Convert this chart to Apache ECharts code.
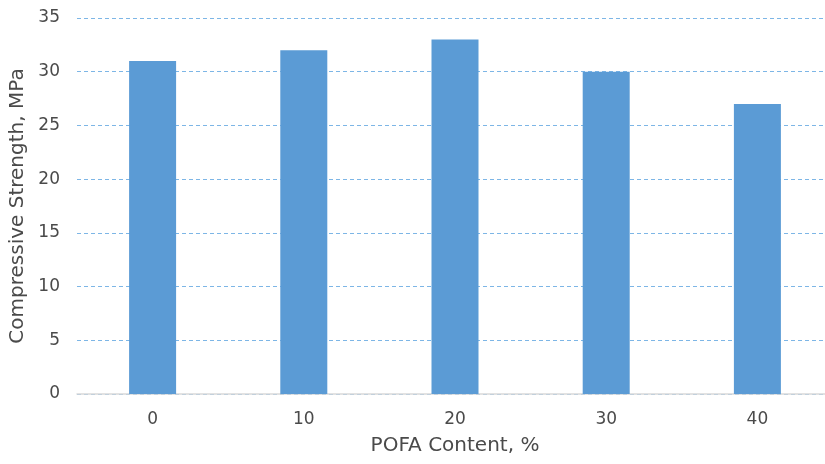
<!DOCTYPE html>
<html><head><meta charset="utf-8">
<script src="https://cdn.jsdelivr.net/npm/echarts@6/dist/echarts.min.js"></script>
<style>html,body{margin:0;padding:0;background:#fff}#c{width:825px;height:464px}</style>
</head><body><div id="c"></div>
<script>
var categories = ['0', '10', '20', '30', '40'];
var strength = [31, 32, 33, 30, 27];
var chart = echarts.init(document.getElementById('c'), null, {renderer: 'canvas'});
var font = '"DejaVu Sans", sans-serif';
chart.setOption({
  animation: false,
  grid: {left: 77, right: -8, top: 18, bottom: 70, containLabel: false, outerBoundsMode: 'none'},
  xAxis: {
    type: 'category', data: categories,
    name: 'POFA Content, %', nameLocation: 'middle', nameGap: 42,
    nameTextStyle: {fontFamily: font, fontSize: 20, color: '#4a4a4a'},
    axisLine: {lineStyle: {color: '#d9d9d9', width: 1.5}},
    axisTick: {show: false},
    axisLabel: {fontFamily: font, fontSize: 17, color: '#4a4a4a', margin: 17},
    splitLine: {show: false}
  },
  yAxis: {
    type: 'value', min: 0, max: 35, interval: 5,
    name: 'Compressive Strength, MPa', nameLocation: 'middle', nameGap: 44,
    nameTextStyle: {fontFamily: font, fontSize: 20, color: '#4a4a4a'},
    axisLine: {show: false}, axisTick: {show: false},
    axisLabel: {fontFamily: font, fontSize: 17, color: '#4a4a4a', margin: 17},
    splitLine: {lineStyle: {color: '#7db6e6', type: [4, 3], width: 1}}
  },
  series: [{
    type: 'bar', data: strength, barWidth: 47,
    itemStyle: {color: '#5b9bd5'}
  }]
});
</script></body></html>
